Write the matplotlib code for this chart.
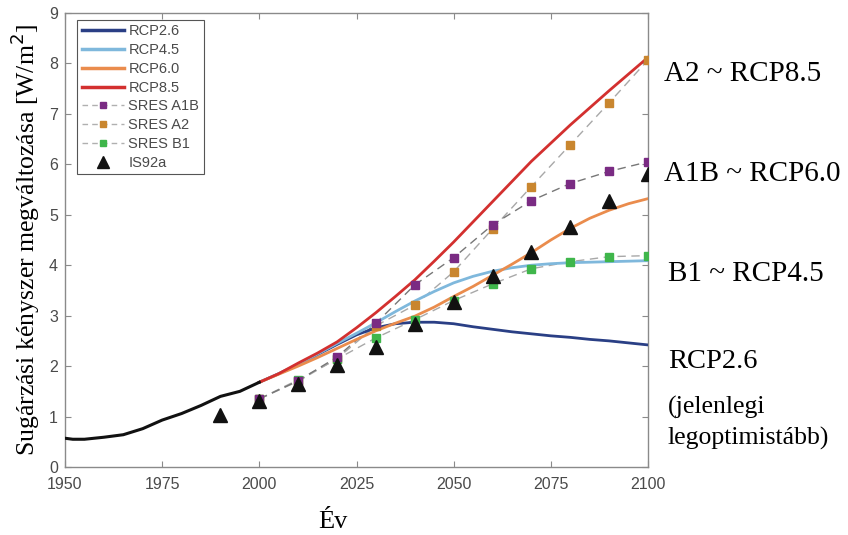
import matplotlib
matplotlib.use("Agg")
import matplotlib.pyplot as plt
from matplotlib.lines import Line2D

# ---- data ----
hist_years = [1950, 1952, 1955, 1960, 1965, 1970, 1975, 1980, 1985, 1990, 1995, 2000]
hist_vals = [0.57, 0.55, 0.55, 0.59, 0.64, 0.76, 0.93, 1.06, 1.22, 1.40, 1.50, 1.68]

rcp_years = [2000, 2005, 2010, 2015, 2020, 2025, 2030, 2035, 2040, 2045, 2050,
             2055, 2060, 2065, 2070, 2075, 2080, 2085, 2090, 2095, 2100]
rcp26 = [1.68, 1.85, 2.03, 2.23, 2.43, 2.62, 2.76, 2.84, 2.87, 2.87, 2.84,
         2.78, 2.73, 2.68, 2.64, 2.60, 2.57, 2.53, 2.50, 2.46, 2.42]
rcp45 = [1.68, 1.85, 2.04, 2.24, 2.45, 2.65, 2.86, 3.08, 3.29, 3.48, 3.65,
         3.78, 3.88, 3.95, 4.00, 4.03, 4.05, 4.06, 4.07, 4.08, 4.09]
rcp60 = [1.68, 1.84, 2.00, 2.17, 2.35, 2.53, 2.70, 2.85, 2.99, 3.17, 3.38,
         3.58, 3.80, 4.02, 4.25, 4.50, 4.73, 4.93, 5.09, 5.22, 5.32]
rcp85 = [1.68, 1.85, 2.06, 2.26, 2.48, 2.76, 3.06, 3.38, 3.71, 4.08, 4.46,
         4.86, 5.26, 5.66, 6.06, 6.42, 6.78, 7.12, 7.46, 7.79, 8.12]

sres_years = [2000, 2010, 2020, 2030, 2040, 2050, 2060, 2070, 2080, 2090, 2100]
sres_a1b = [1.35, 1.71, 2.18, 2.85, 3.61, 4.15, 4.80, 5.28, 5.62, 5.86, 6.05]
sres_a2 = [1.35, 1.70, 2.15, 2.80, 3.21, 3.87, 4.72, 5.56, 6.39, 7.22, 8.07]
sres_b1 = [1.35, 1.73, 2.14, 2.56, 2.92, 3.30, 3.63, 3.93, 4.07, 4.17, 4.19]

is92_years = [1990, 2000, 2010, 2020, 2030, 2040, 2050, 2060, 2070, 2080, 2090, 2100]
is92a = [1.03, 1.31, 1.65, 2.02, 2.38, 2.84, 3.27, 3.79, 4.27, 4.76, 5.28, 5.81]

x_ticks = [1950, 1975, 2000, 2025, 2050, 2075, 2100]
y_ticks = list(range(0, 10))

# ---- style ----
c26, c45, c60, c85 = "#2a3f85", "#7fb8dc", "#ea8c4d", "#d3302f"
ca1b, ca2, cb1 = "#7a2b83", "#c9862f", "#3fb64b"
gray_txt = "#4a4a4a"
spine_c = "#8a8a8a"

fig = plt.figure(figsize=(8.48, 5.35), dpi=100)
ax = fig.add_axes([65/848, 1-467/535, (648-65)/848, (467-13)/535])

lw = 2.0
ax.plot(rcp_years, rcp26, color=c26, lw=lw, zorder=3)
ax.plot(rcp_years, rcp45, color=c45, lw=lw, zorder=3)
ax.plot(rcp_years, rcp60, color=c60, lw=lw, zorder=3)
ax.plot(rcp_years, rcp85, color=c85, lw=lw, zorder=3)

dash = (0, (6, 4))
ax.plot(sres_years, sres_a2, color="#a8a8a8", lw=1.0, ls=dash, zorder=2)
ax.plot(sres_years, sres_b1, color="#a8a8a8", lw=1.0, ls=dash, zorder=2)
ax.plot(sres_years, sres_a1b, color="#777777", lw=1.0, ls=dash, zorder=2)
ms = 6
ax.plot(sres_years, sres_a2, ls="none", marker="s", ms=ms, color=ca2, mec=ca2, zorder=4)
ax.plot(sres_years, sres_b1, ls="none", marker="s", ms=ms, color=cb1, mec=cb1, zorder=4)
ax.plot(sres_years, sres_a1b, ls="none", marker="s", ms=ms, color=ca1b, mec=ca1b, zorder=4)

ax.plot(is92_years, is92a, ls="none", marker="^", ms=10, color="#111111", zorder=5)
ax.plot(hist_years, hist_vals, color="#111111", lw=2.2, zorder=6)

ax.set_xlim(1950, 2100)
ax.set_ylim(0, 9)
ax.set_xticks(x_ticks)
ax.set_yticks(y_ticks)
ax.tick_params(direction="in", top=True, right=True, length=4, color=spine_c,
               labelsize=11.5, labelcolor=gray_txt)
ax.tick_params(axis="x", pad=7)
ax.tick_params(axis="y", pad=5)
for lab in ax.get_xticklabels() + ax.get_yticklabels():
    lab.set_family("Liberation Sans")
for s in ax.spines.values():
    s.set_color(spine_c)
    s.set_linewidth(1.0)

handles = [
    Line2D([], [], color=c26, lw=2.5),
    Line2D([], [], color=c45, lw=2.5),
    Line2D([], [], color=c60, lw=2.5),
    Line2D([], [], color=c85, lw=2.5),
    Line2D([], [], color="#b0b0b0", lw=1.0, ls=(0, (4, 3)), marker="s", ms=5, mfc=ca1b, mec=ca1b),
    Line2D([], [], color="#b0b0b0", lw=1.0, ls=(0, (4, 3)), marker="s", ms=5, mfc=ca2, mec=ca2),
    Line2D([], [], color="#b0b0b0", lw=1.0, ls=(0, (4, 3)), marker="s", ms=5, mfc=cb1, mec=cb1),
    Line2D([], [], color="none", marker="^", ms=9, mfc="#111111", mec="#111111"),
]
labels = ["RCP2.6", "RCP4.5", "RCP6.0", "RCP8.5", "SRES A1B", "SRES A2", "SRES B1", "IS92a"]
leg = ax.legend(handles, labels, loc="upper left", bbox_to_anchor=(0.021, 0.985),
                frameon=True, fancybox=False, edgecolor="#555555", framealpha=1,
                prop={"family": "Liberation Sans", "size": 10.5}, labelspacing=0.33,
                handlelength=2.9, handletextpad=0.3, borderpad=0.3, borderaxespad=0.0)
for t in leg.get_texts():
    t.set_color(gray_txt)
leg.get_frame().set_linewidth(0.8)

serif = "Liberation Serif"
ax.set_ylabel("Sugárzási kényszer megváltozása [W/m$^2$]", family=serif, fontsize=18.5,
              labelpad=5)
fig.text(333/848, 1-522/535, "Év", family=serif, fontsize=19, ha="center", va="center")

def ftext(px, py, s, size=21):
    fig.text(px/848, 1-py/535, s, family=serif, fontsize=size, ha="left", va="center")

ftext(664, 74, "A2 ~ RCP8.5")
ftext(664, 174, "A1B ~ RCP6.0")
ftext(668, 274, "B1 ~ RCP4.5")
ftext(668, 362, "RCP2.6", 20.5)
ftext(668, 407, "(jelenlegi", 18.5)
ftext(668, 438, "legoptimistább)", 18.5)

fig.savefig("out.png", dpi=100)
